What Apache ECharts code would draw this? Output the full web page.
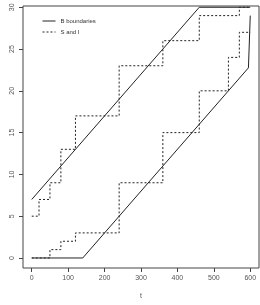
<!DOCTYPE html>
<html>
<head>
<meta charset="utf-8">
<script src="https://cdn.jsdelivr.net/npm/echarts@6/dist/echarts.min.js"></script>
<style>
  html, body { margin: 0; padding: 0; background: #fff; }
  #chart { width: 260px; height: 305px; }
</style>
</head>
<body>
<div id="chart"></div>
<script>
// boundaries (t, value)
const upperT = [0, 460, 600];
const upperV = [7, 30, 30];
const lowerT = [0, 140, 595, 600];
const lowerV = [0, 0, 22.75, 29];

// step paths: value holds from each time until the next
const sTimes = [0, 50, 80, 120, 240, 360, 460, 540, 570, 600];
const sValues = [0, 1, 2, 3, 9, 15, 20, 24, 27, 27];
const iTimes = [0, 20, 50, 80, 120, 240, 360, 460, 570, 600];
const iValues = [5, 7, 9, 13, 17, 23, 26, 29, 30, 30];

const xTicks = [0, 100, 200, 300, 400, 500, 600];
const yTicks = [0, 5, 10, 15, 20, 25, 30];

const pairs = (ts, vs) => ts.map((t, i) => [t, vs[i]]);

const chart = echarts.init(document.getElementById('chart'));
const ink = '#222';
const textColor = '#555';

const solid = (data) => ({
  name: 'B boundaries',
  type: 'line',
  data: data,
  symbol: 'none',
  silent: true,
  lineStyle: { color: ink, width: 1 },
  itemStyle: { color: ink }
});
const dashed = (data) => ({
  name: 'S and I',
  type: 'line',
  step: 'end',
  data: data,
  symbol: 'none',
  silent: true,
  lineStyle: { color: ink, width: 1, type: [2, 2] },
  itemStyle: { color: ink }
});

chart.setOption({
  animation: false,
  grid: {
    left: 23, right: 1, top: 6, bottom: 30,
    show: true, borderColor: '#444', borderWidth: 1, backgroundColor: '#fff'
  },
  legend: {
    orient: 'vertical',
    left: 37, top: 13,
    itemWidth: 13, itemHeight: 6, itemGap: 5,
    itemStyle: { opacity: 0 },
    lineStyle: { width: 1 },
    textStyle: { fontSize: 6, color: '#333', fontFamily: 'Liberation Sans' },
    data: ['B boundaries', 'S and I']
  },
  xAxis: {
    type: 'value',
    min: -24, max: 624,
    name: 't', nameLocation: 'middle', nameGap: 25,
    nameTextStyle: { fontSize: 7, color: textColor, fontFamily: 'Liberation Sans' },
    axisLine: { show: false, onZero: false },
    axisTick: { show: true, length: 4, customValues: xTicks, lineStyle: { color: '#444' } },
    axisLabel: { customValues: xTicks, fontSize: 7, color: textColor, margin: 7, fontFamily: 'Liberation Sans' },
    splitLine: { show: false }
  },
  yAxis: {
    type: 'value',
    min: -1.2, max: 30.15,
    axisLine: { show: false, onZero: false },
    axisTick: { show: true, length: 4, customValues: yTicks, lineStyle: { color: '#444' } },
    axisLabel: { customValues: yTicks, fontSize: 7, color: textColor, margin: 7, rotate: 90, fontFamily: 'Liberation Sans' },
    splitLine: { show: false }
  },
  series: [
    solid(pairs(upperT, upperV)),
    solid(pairs(lowerT, lowerV)),
    dashed(pairs(sTimes, sValues)),
    dashed(pairs(iTimes, iValues))
  ]
});
</script>
</body>
</html>
